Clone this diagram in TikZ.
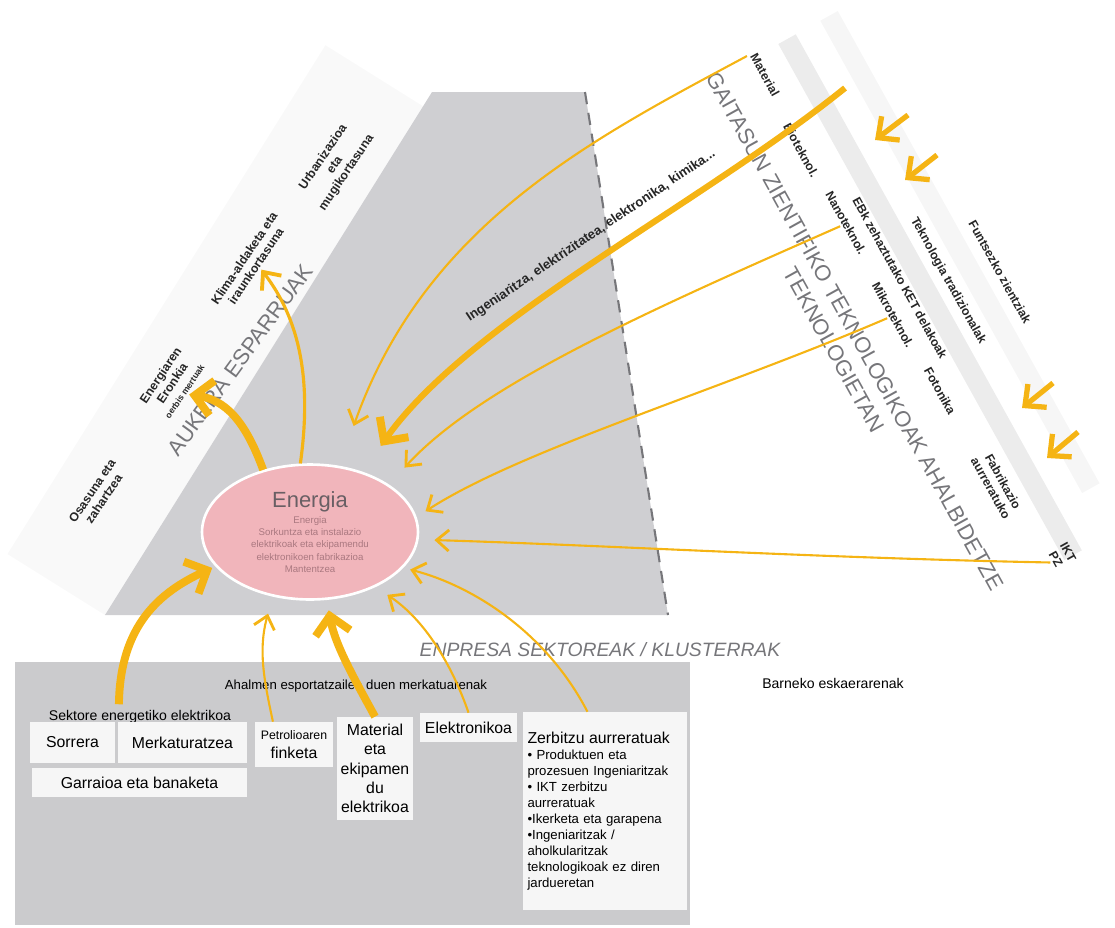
\documentclass[tikz,border=0pt]{standalone}
\usepackage{fontspec}
\setmainfont{Liberation Sans}
\usetikzlibrary{arrows.meta,shapes.geometric}

\definecolor{flowyel}{RGB}{245,180,20}
\definecolor{ellpink}{RGB}{241,181,187}
\definecolor{bigtxt}{RGB}{118,118,122}
\definecolor{trapgray}{RGB}{207,207,210}
\definecolor{boxgray}{RGB}{203,203,205}
\definecolor{enertxt}{RGB}{105,95,100}
\definecolor{enersmall}{RGB}{170,120,128}

\begin{document}
\begin{tikzpicture}[x=0.02cm, y=-0.02cm,
    bandlabel/.style ={font=\fontsize{7}{8}\selectfont\bfseries, text=black!85, align=center, inner sep=1pt, rotate=56},
    techlabel/.style ={font=\fontsize{7}{8}\selectfont\bfseries, text=black!85, align=center, inner sep=1pt, rotate=-61},
    bigword/.style ={font=\fontsize{12.5}{14}\selectfont, text=bigtxt, inner sep=0pt},
    sectorbox/.style ={fill=white!93!gray, inner sep=1pt, align=center, font=\fontsize{9}{11}\selectfont},
    flow/.style ={draw=flowyel, line width=1.2pt, -{Straight Barb[length=7pt,width=12pt,line width=1.6pt]}},
    midflow/.style ={draw=flowyel, line width=1.8pt, -{Straight Barb[length=8pt,width=14pt,line width=2.2pt]}},
    bigflow/.style ={draw=flowyel, line width=4.5pt, -{Straight Barb[length=10pt,width=20pt,line width=4.5pt]}},
    chevron/.style ={draw=flowyel, line width=3pt, -{Straight Barb[length=9pt,width=17pt,line width=3pt]}}]
  \useasboundingbox (0,0) rectangle (1115,927);

  % bands behind the labels
  \begin{scope}[shift={(105,615)}, rotate=58]
    \fill[gray!5] (0,0) rectangle (600,-115);
  \end{scope}
  \begin{scope}[shift={(760,77)}, rotate=-61]
    \fill[gray!15] (-20,-32) rectangle (570,-52);
    \fill[gray!7] (-20,-80) rectangle (520,-100);
  \end{scope}

  % sectors area
  \fill[trapgray] (105,615) -- (432,92) -- (585,92) -- (668,615) -- cycle;
  \draw[bigtxt, line width=1.2pt, dash pattern=on 7pt off 5pt] (585,92) -- (668,615);
  \fill[boxgray] (15,662) rectangle (690,925);

  % big titles
  \node[bigword, rotate=54] (aukera) at (240,360) {AUKERA ESPARRUAK};
  \node[bigword, rotate=-61] (gaitasun) at (855,331) {GAITASUN ZIENTIFIKO TEKNOLOGIKOAK AHALBIDETZE};
  \node[bigword, rotate=-61] (teknol) at (834,350) {TEKNOLOGIETAN};
  \node[bigword, font=\fontsize{11}{13}\selectfont\itshape] (enpresa) at (600,650) {ENPRESA SEKTOREAK / KLUSTERRAK};

  % opportunity areas
  \node[bandlabel] (osasun) at (98,495) {Osasuna eta\\zahartzea};
  \node[bandlabel] (energ) at (172,383) {Energiaren\\Eronkia\\\fontsize{5}{6}\selectfont oerbis mertuak};
  \node[bandlabel] (klima) at (250,262) {Klima-aldaketa eta\\iraunkortasuna};
  \node[bandlabel] (urban) at (335,165) {Urbanizazioa\\eta\\mugikortasuna};

  % technologies
  \node[techlabel] (rmat) at (765,75) {Material};
  \node[techlabel] (biot) at (801,150) {Bioteknol.};
  \node[techlabel] (nano) at (846,223) {Nanoteknol.};
  \node[techlabel] (mikro) at (893,315) {Mikroteknol.};
  \node[techlabel] (foto) at (940,391) {Fotonika};
  \node[techlabel] (fabr) at (997,485) {Fabrikazio\\aurreratuko};
  \node[techlabel] (iktpz) at (1062,556) {IKT\\PZ};
  \node[techlabel] (ebk) at (900,278) {EBk zehaztutako KET delakoak};
  \node[techlabel] (tradi) at (948,281) {Teknologia tradizionalak};
  \node[techlabel] (funts) at (1000,272) {Funtsezko zientziak};
  \node[font=\fontsize{7.5}{9}\selectfont\bfseries, text=black!85, rotate=34, inner sep=0pt] (ingen) at (591,236)
    {Ingeniaritza, elektrizitatea, elektronika, kimika...};
  \coordinate (ingtop) at (845,88);

  % energy
  \node[ellipse, fill=ellpink, draw=white, line width=1.5pt, minimum width=4.32cm, minimum height=2.7cm,
    inner sep=0pt, align=center, font=\fontsize{5.5}{7}\selectfont, text=enersmall] (ener) at (310,532)
    {{\fontsize{12.5}{14}\selectfont\color{enertxt}Energia}\\[2pt]Energia\\
     Sorkuntza eta instalazio\\elektrikoak eta ekipamendu\\elektronikoen fabrikazioa\\Mantentzea};

  % company sectors
  \node[font=\fontsize{7.5}{9}\selectfont] (ahal) at (356,686) {Ahalmen esportatzailea duen merkatuarenak};
  \node[font=\fontsize{8}{9}\selectfont] (barne) at (833,683) {Barneko eskaerarenak};
  \node[font=\fontsize{8}{9}\selectfont] (sekt) at (140,717) {Sektore energetiko elektrikoa};
  \node[sectorbox, minimum width=1.7cm, minimum height=0.82cm] (sorr) at (72.5,742.5) {Sorrera};
  \node[sectorbox, minimum width=2.58cm, minimum height=0.82cm] (merk) at (182.5,742.5) {Merkaturatzea};
  \node[sectorbox, minimum width=4.3cm, minimum height=0.58cm] (garr) at (139.5,782.5) {Garraioa eta banaketa};
  \node[sectorbox, minimum width=1.56cm, minimum height=0.9cm] (petro) at (294,744.5)
    {{\fontsize{7}{8}\selectfont Petrolioaren}\\finketa};
  \node[sectorbox, minimum width=1.52cm, minimum height=2.06cm] (matb) at (375,768.5)
    {Material\\eta\\ekipamen\\du\\elektrikoa};
  \node[sectorbox, minimum width=1.94cm, minimum height=0.58cm] (elek) at (468.5,727.5) {Elektronikoa};
  \node[sectorbox, minimum width=3.28cm, minimum height=3.96cm, align=left, text width=3.1cm,
    font=\fontsize{7.5}{9.1}\selectfont] (zerb) at (605,811)
    {{\fontsize{9}{11}\selectfont Zerbitzu aurreratuak}\\• Produktuen eta\\prozesuen Ingeniaritzak\\• IKT zerbitzu\\aurreratuak\\
     •Ikerketa eta garapena\\•Ingeniaritzak /\\aholkularitzak\\teknologikoak ez diren\\jardueretan};

  % flows into energy
  \draw[bigflow, shorten >=2pt] ([xshift=-12pt]sekt.north) .. controls (120,625) and (160,592) .. (ener.200);
  \draw[flow, shorten >=10pt] ([xshift=-12pt]petro.north) .. controls (264,680) and (258,650) .. (ener.240);
  \draw[bigflow, shorten >=6pt] (matb.north) .. controls (355,680) and (335,645) .. (ener.284);
  \draw[flow, shorten >=8pt] (elek.north) .. controls (452,665) and (425,620) .. (ener.320);
  \draw[flow, shorten >=4pt] ([xshift=-10pt]zerb.north) .. controls (545,630) and (470,585) .. (ener.339);
  \draw[flow, shorten >=9pt] (iktpz.south) .. controls (820,558) and (600,545) .. (ener.356);
  \draw[flow, shorten >=6pt] (mikro.south) .. controls (720,390) and (520,450) .. (ener.8);
  \draw[flow, shorten >=13pt] (nano.south) .. controls (650,310) and (480,385) .. (ener.31);
  \draw[bigflow, line width=3.5pt, shorten >=18pt] (ingtop) .. controls (700,205) and (470,320) .. (ener.49);
  \draw[flow, shorten >=24pt] (rmat.south west) .. controls (590,140) and (425,225) .. (ener.66);

  % flows out of energy
  \draw[bigflow] (ener.127) .. controls (245,420) and (225,400) .. (energ.south);
  \draw[midflow] (ener.98) .. controls (312,380) and (300,320) .. (klima.south);

  \foreach \sx/\sy/\ex/\ey in {908/115/875/140, 937/155/905/180, 1053/383/1022/408, 1078/432/1047/458}
    \draw[chevron] (\sx,\sy) -- (\ex,\ey);
\end{tikzpicture}
\end{document}
